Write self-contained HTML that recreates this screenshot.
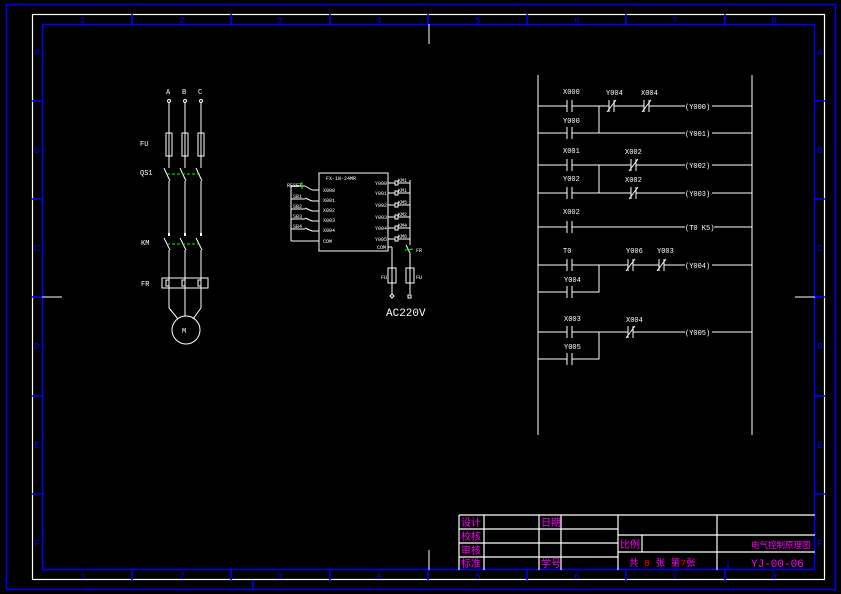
<!DOCTYPE html>
<html><head><meta charset="utf-8"><style>
html,body{margin:0;padding:0;background:#000;}
svg{display:block;}
text{font-family:"Liberation Mono","Noto Sans CJK SC",monospace;}
</style></head><body>
<svg width="841" height="594" viewBox="0 0 841 594" xmlns="http://www.w3.org/2000/svg">
<rect width="841" height="594" fill="#000"/>
<g fill="none" stroke-width="1.5">
<rect x="6.5" y="4.5" width="829" height="585" stroke="#0000ff"/>
<rect x="32.5" y="14.5" width="792" height="565" stroke="#fff" stroke-width="1.2"/>
<rect x="42.5" y="24.5" width="772" height="545" stroke="#0000ff"/>
</g>
<g stroke="#0000ff" stroke-width="1.5">
<line x1="132" y1="14" x2="132" y2="24"/><line x1="231" y1="14" x2="231" y2="24"/><line x1="330" y1="14" x2="330" y2="24"/><line x1="428" y1="14" x2="428" y2="24"/><line x1="527" y1="14" x2="527" y2="24"/><line x1="626" y1="14" x2="626" y2="24"/><line x1="725" y1="14" x2="725" y2="24"/>
<line x1="132" y1="570" x2="132" y2="580"/><line x1="231" y1="570" x2="231" y2="580"/><line x1="330" y1="570" x2="330" y2="580"/><line x1="428" y1="570" x2="428" y2="580"/><line x1="527" y1="570" x2="527" y2="580"/><line x1="626" y1="570" x2="626" y2="580"/><line x1="725" y1="570" x2="725" y2="580"/>
<line x1="32" y1="101" x2="42" y2="101"/><line x1="32" y1="199" x2="42" y2="199"/><line x1="32" y1="297" x2="42" y2="297"/><line x1="32" y1="396" x2="42" y2="396"/><line x1="32" y1="494" x2="42" y2="494"/>
<line x1="815" y1="101" x2="825" y2="101"/><line x1="815" y1="199" x2="825" y2="199"/><line x1="815" y1="297" x2="825" y2="297"/><line x1="815" y1="396" x2="825" y2="396"/><line x1="815" y1="494" x2="825" y2="494"/>
<line x1="253" y1="580" x2="253" y2="590"/>
</g>
<g fill="#0000ff" font-size="9" text-anchor="middle">
<text x="83" y="23">1</text><text x="182" y="23">2</text><text x="280" y="23">3</text><text x="379" y="23">4</text><text x="478" y="23">5</text><text x="577" y="23">6</text><text x="675" y="23">7</text><text x="774" y="23">8</text>
<text x="83" y="579">1</text><text x="182" y="579">2</text><text x="280" y="579">3</text><text x="379" y="579">4</text><text x="478" y="579">5</text><text x="577" y="579">6</text><text x="675" y="579">7</text><text x="774" y="579">8</text>
<text x="37" y="55">A</text><text x="37" y="153">B</text><text x="37" y="251">C</text><text x="37" y="349">D</text><text x="37" y="448">E</text><text x="37" y="546">F</text>
<text x="820" y="55">A</text><text x="820" y="153">B</text><text x="820" y="251">C</text><text x="820" y="349">D</text><text x="820" y="448">E</text><text x="820" y="546">F</text>
</g>
<g stroke="#fff" stroke-width="1">
<line x1="429" y1="24" x2="429" y2="44"/><line x1="429" y1="550" x2="429" y2="570"/>
<line x1="42" y1="297" x2="62" y2="297"/><line x1="795" y1="297" x2="815" y2="297"/>
</g>

<g stroke="#fff" stroke-width="1" fill="none">
<circle cx="169" cy="101" r="1.5"/><circle cx="185" cy="101" r="1.5"/><circle cx="201" cy="101" r="1.5"/>
<line x1="169" y1="103" x2="169" y2="168"/><line x1="185" y1="103" x2="185" y2="168"/><line x1="201" y1="103" x2="201" y2="168"/>
<rect x="166" y="133" width="6" height="23"/><rect x="182" y="133" width="6" height="23"/><rect x="198" y="133" width="6" height="23"/>
<line x1="164" y1="168" x2="170" y2="181"/><line x1="180" y1="168" x2="186" y2="181"/><line x1="196" y1="168" x2="202" y2="181"/>
<line x1="169" y1="181" x2="169" y2="234"/><line x1="185" y1="181" x2="185" y2="234"/><line x1="201" y1="181" x2="201" y2="234"/>
<line x1="164" y1="238" x2="170" y2="250"/><line x1="180" y1="238" x2="186" y2="250"/><line x1="196" y1="238" x2="202" y2="250"/>
<line x1="169" y1="250" x2="169" y2="308"/><line x1="185" y1="250" x2="185" y2="316"/><line x1="201" y1="250" x2="201" y2="308"/>
<line x1="169" y1="308" x2="178" y2="319"/><line x1="201" y1="308" x2="193" y2="319"/>
<rect x="162" y="278" width="46" height="10"/>
<path d="M169 280 h-3 v6 h3 M185 280 h-3 v6 h3 M201 280 h-3 v6 h3"/>
<circle cx="186" cy="330" r="14"/>
</g>
<g fill="#fff"><rect x="168" y="233" width="2" height="3"/><rect x="184" y="233" width="2" height="3"/><rect x="200" y="233" width="2" height="3"/></g>
<g stroke="#00ff00" stroke-width="1" stroke-dasharray="3,2">
<line x1="167" y1="174" x2="200" y2="174"/><line x1="167" y1="244" x2="200" y2="244"/>
</g>
<g fill="#fff" font-size="7">
<text x="166" y="94">A</text><text x="182" y="94">B</text><text x="198" y="94">C</text>
<text x="140" y="146">FU</text><text x="140" y="175">QS1</text><text x="141" y="245">KM</text><text x="141" y="286">FR</text>
<text x="182" y="333">M</text>
</g>

<g stroke="#fff" stroke-width="1" fill="none">
<rect x="319" y="173" width="69" height="78"/>
<line x1="291" y1="186" x2="291" y2="241"/><line x1="291" y1="241" x2="319" y2="241"/>
<line x1="291" y1="186" x2="305" y2="186"/><line x1="305" y1="186" x2="312" y2="190"/><line x1="312" y1="190" x2="319" y2="190"/>
<line x1="291" y1="199" x2="305" y2="199"/><line x1="305" y1="198" x2="312" y2="201"/><line x1="312" y1="201" x2="319" y2="201"/>
<line x1="291" y1="209" x2="305" y2="209"/><line x1="305" y1="208" x2="312" y2="211"/><line x1="312" y1="211" x2="319" y2="211"/>
<line x1="291" y1="219" x2="305" y2="219"/><line x1="305" y1="218" x2="312" y2="221"/><line x1="312" y1="221" x2="319" y2="221"/>
<line x1="291" y1="229" x2="305" y2="229"/><line x1="305" y1="228" x2="312" y2="231"/><line x1="312" y1="231" x2="319" y2="231"/>
<line x1="388" y1="183" x2="395" y2="183"/><rect x="395" y="181" width="3" height="4"/><line x1="398" y1="183" x2="410" y2="183"/>
<line x1="388" y1="193" x2="395" y2="193"/><rect x="395" y="191" width="3" height="4"/><line x1="398" y1="193" x2="410" y2="193"/>
<line x1="388" y1="205" x2="395" y2="205"/><rect x="395" y="203" width="3" height="4"/><line x1="398" y1="205" x2="410" y2="205"/>
<line x1="388" y1="217" x2="395" y2="217"/><rect x="395" y="215" width="3" height="4"/><line x1="398" y1="217" x2="410" y2="217"/>
<line x1="388" y1="228" x2="395" y2="228"/><rect x="395" y="226" width="3" height="4"/><line x1="398" y1="228" x2="410" y2="228"/>
<line x1="388" y1="239" x2="395" y2="239"/><rect x="395" y="237" width="3" height="4"/><line x1="398" y1="239" x2="410" y2="239"/>
<line x1="410" y1="180" x2="410" y2="245"/>
<line x1="388" y1="247" x2="392" y2="247"/><line x1="392" y1="247" x2="392" y2="294"/>
<rect x="388" y="268" width="8" height="15"/>
<line x1="406" y1="245" x2="410" y2="253"/><line x1="410" y1="253" x2="410" y2="294"/>
<rect x="406" y="268" width="8" height="15"/>
<rect x="408" y="295" width="3" height="3"/>
<path d="M390 296 l2 -2 l2 2 l-2 2 z"/>
</g>
<line x1="405" y1="250" x2="413" y2="249" stroke="#00ff00" stroke-width="1"/>
<line x1="302" y1="182" x2="302" y2="189" stroke="#00ff00" stroke-width="1"/>
<g fill="#fff" font-size="5">
<text x="341" y="180" text-anchor="middle">FX-1N-24MR</text>
<text x="323" y="192">X000</text><text x="323" y="202">X001</text><text x="323" y="212">X002</text><text x="323" y="222">X003</text><text x="323" y="232">X004</text><text x="323" y="243">COM</text>
<text x="375" y="185">Y000</text><text x="375" y="195">Y001</text><text x="375" y="207">Y002</text><text x="375" y="219">Y003</text><text x="375" y="230">Y004</text><text x="375" y="241">Y005</text><text x="377" y="249">COM</text>
<text x="398" y="182">KM1</text><text x="398" y="192">KM1</text><text x="398" y="204">KM5</text><text x="398" y="216">KM2</text><text x="398" y="227">KM4</text><text x="398" y="238">KM6</text>
<text x="287" y="187">RESET</text><text x="293" y="198">SB1</text><text x="293" y="208">SB2</text><text x="293" y="218">SB3</text><text x="293" y="228">SB4</text>
<text x="381" y="279">FU</text><text x="416" y="279">FU</text><text x="416" y="252">FR</text>
</g>
<text x="386" y="316" fill="#fff" font-size="11">AC220V</text>

<g stroke="#fff" stroke-width="1" fill="none">
<line x1="538" y1="75" x2="538" y2="435"/><line x1="752" y1="75" x2="752" y2="435"/>
<path d="M538 106 H567 M572 106 H609 M614 106 H644 M649 106 H685 M712 106 H752"/>
<path d="M538 133 H567 M572 133 H685 M712 133 H752 M599 106 V133"/>
<path d="M538 165 H567 M572 165 H631 M636 165 H685 M712 165 H752"/>
<path d="M538 193 H567 M572 193 H631 M636 193 H685 M712 193 H752 M599 165 V193"/>
<path d="M538 227 H567 M572 227 H685 M714 227 H752"/>
<path d="M538 265 H567 M572 265 H628 M633 265 H659 M664 265 H685 M712 265 H752"/>
<path d="M538 292 H567 M572 292 H599 V265"/>
<path d="M538 332 H567 M572 332 H628 M633 332 H685 M712 332 H752"/>
<path d="M538 359 H567 M572 359 H599 V332"/>
<path d="M567 100 V112 M572 100 V112 M567 127 V139 M572 127 V139 M567 159 V171 M572 159 V171 M567 187 V199 M572 187 V199 M567 221 V233 M572 221 V233 M567 259 V271 M572 259 V271 M567 286 V298 M572 286 V298 M567 326 V338 M572 326 V338 M567 353 V365 M572 353 V365"/>
<path d="M609 100 V112 M614 100 V112 M607 112 L616 100 M644 100 V112 M649 100 V112 M642 112 L651 100"/>
<path d="M631 159 V171 M636 159 V171 M629 171 L638 159 M631 187 V199 M636 187 V199 M629 199 L638 187"/>
<path d="M628 259 V271 M633 259 V271 M626 271 L635 259 M659 259 V271 M664 259 V271 M657 271 L666 259"/>
<path d="M628 326 V338 M633 326 V338 M626 338 L635 326"/>
</g>
<g fill="#fff" font-size="7">
<text x="563" y="94">X000</text><text x="606" y="95">Y004</text><text x="641" y="95">X004</text>
<text x="563" y="123">Y000</text>
<text x="563" y="153">X001</text><text x="625" y="154">X002</text>
<text x="563" y="181">Y002</text><text x="625" y="182">X002</text>
<text x="563" y="214">X002</text>
<text x="563" y="253">T0</text><text x="626" y="253">Y006</text><text x="657" y="253">Y003</text>
<text x="564" y="282">Y004</text>
<text x="564" y="321">X003</text><text x="626" y="322">X004</text>
<text x="564" y="349">Y005</text>
<text x="685" y="109">(Y000)</text><text x="685" y="136">(Y001)</text><text x="685" y="168">(Y002)</text><text x="685" y="196">(Y003)</text><text x="685" y="230">(T0 K5)</text><text x="685" y="268">(Y004)</text><text x="685" y="335">(Y005)</text>
</g>

<g stroke="#fff" stroke-width="1.2" fill="none">
<line x1="459" y1="515" x2="815" y2="515"/>
<line x1="459" y1="529" x2="618" y2="529"/><line x1="459" y1="543" x2="618" y2="543"/><line x1="459" y1="557" x2="618" y2="557"/>
<line x1="618" y1="535" x2="815" y2="535"/><line x1="618" y1="552" x2="815" y2="552"/>
<line x1="459" y1="515" x2="459" y2="570"/><line x1="484" y1="515" x2="484" y2="570"/><line x1="539" y1="515" x2="539" y2="570"/><line x1="561" y1="515" x2="561" y2="570"/><line x1="618" y1="515" x2="618" y2="570"/><line x1="642" y1="535" x2="642" y2="552"/><line x1="717" y1="515" x2="717" y2="570"/>
</g>
<line x1="728" y1="562" x2="728" y2="570" stroke="#0000ff" stroke-width="1"/>
<g fill="#ff00ff" font-size="10" font-family="'Noto Sans CJK SC',sans-serif">
<text x="461" y="526">设计</text><text x="541" y="526">日期</text>
<text x="461" y="540">校核</text><text x="461" y="554">审核</text><text x="461" y="567">标准</text><text x="541" y="567">学号</text>
<text x="620" y="548">比例</text>
<text x="751" y="548" font-size="8.5">电气控制原理图</text>
<text x="629" y="566" font-size="9.5">共 <tspan fill="#ff0000">8</tspan> 张 第<tspan fill="#ff0000">7</tspan>张</text>
</g>
<text x="751" y="567" fill="#ff00ff" font-size="11" font-family="'Liberation Mono',monospace">YJ-00-06</text>
</svg>
</body></html>
